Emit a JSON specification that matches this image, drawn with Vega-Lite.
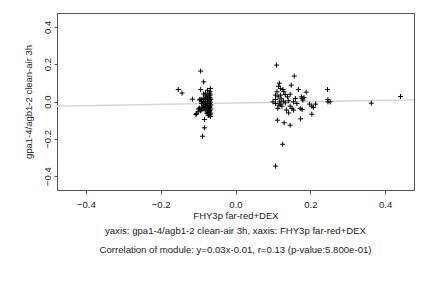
{
  "$schema": "https://vega.github.io/schema/vega-lite/v6.json",
  "width": 357,
  "height": 177,
  "autosize": "none",
  "padding": {"left": 57, "top": 13, "right": 18, "bottom": 98},
  "background": "white",
  "config": {
    "view": {"stroke": "#555555", "strokeWidth": 1},
    "font": "Liberation Sans",
    "axis": {
      "grid": false,
      "domain": false,
      "tickColor": "#555555",
      "tickSize": 4,
      "labelFontSize": 9.6,
      "labelColor": "#222222",
      "titleFontSize": 9.5,
      "titleFontWeight": "normal",
      "titleColor": "#222222"
    }
  },
  "title": {
    "text": ["yaxis: gpa1-4/agb1-2 clean-air 3h, xaxis: FHY3p far-red+DEX", "Correlation of module: y=0.03x-0.01, r=0.13 (p-value:5.800e-01)"],
    "orient": "bottom",
    "anchor": "middle",
    "fontSize": 9.6,
    "fontWeight": "normal",
    "color": "#222222",
    "lineHeight": 19,
    "offset": 6
  },
  "layer": [
    {
      "data": {"values": [{"x": -0.477, "y": -0.025}, {"x": 0.477, "y": 0.009}]},
      "mark": {"type": "line", "color": "#d6d6d6", "strokeWidth": 1.5, "clip": true},
      "encoding": {
        "x": {"field": "x", "type": "quantitative"},
        "y": {"field": "y", "type": "quantitative"}
      }
    },
    {
      "data": {"values": [
        {"x": -0.153, "y": 0.064}, {"x": -0.143, "y": 0.045}, {"x": -0.115, "y": 0.0125}, {"x": -0.106, "y": -0.07},
        {"x": -0.093, "y": 0.163}, {"x": -0.093, "y": 0.064}, {"x": -0.085, "y": 0.105}, {"x": -0.088, "y": -0.186},
        {"x": -0.083, "y": -0.141}, {"x": -0.083, "y": -0.096}, {"x": -0.067, "y": 0.07}, {"x": -0.095, "y": 0.012},
        {"x": -0.068, "y": 0.055}, {"x": -0.069, "y": 0.045}, {"x": -0.067, "y": 0.035}, {"x": -0.07, "y": 0.03},
        {"x": -0.068, "y": 0.02}, {"x": -0.066, "y": 0.012}, {"x": -0.069, "y": 0.005}, {"x": -0.067, "y": -0.003},
        {"x": -0.07, "y": -0.01}, {"x": -0.066, "y": -0.018}, {"x": -0.068, "y": -0.025}, {"x": -0.069, "y": -0.032},
        {"x": -0.066, "y": -0.04}, {"x": -0.068, "y": -0.048}, {"x": -0.07, "y": -0.055}, {"x": -0.066, "y": -0.062},
        {"x": -0.068, "y": -0.07}, {"x": -0.071, "y": -0.075}, {"x": -0.067, "y": -0.08},
        {"x": -0.075, "y": 0.06}, {"x": -0.074, "y": 0.04}, {"x": -0.076, "y": 0.025}, {"x": -0.075, "y": 0.015},
        {"x": -0.074, "y": 0.0}, {"x": -0.076, "y": -0.01}, {"x": -0.075, "y": -0.02}, {"x": -0.073, "y": -0.03},
        {"x": -0.076, "y": -0.04}, {"x": -0.074, "y": -0.05}, {"x": -0.075, "y": -0.06}, {"x": -0.073, "y": -0.075},
        {"x": -0.076, "y": -0.065},
        {"x": -0.08, "y": 0.045}, {"x": -0.081, "y": 0.03}, {"x": -0.079, "y": 0.01}, {"x": -0.08, "y": 0.0},
        {"x": -0.081, "y": -0.015}, {"x": -0.079, "y": -0.025}, {"x": -0.08, "y": -0.035}, {"x": -0.081, "y": -0.045},
        {"x": -0.079, "y": 0.02},
        {"x": -0.085, "y": 0.04}, {"x": -0.086, "y": 0.015}, {"x": -0.084, "y": -0.005}, {"x": -0.085, "y": -0.02},
        {"x": -0.086, "y": -0.03}, {"x": -0.084, "y": -0.04},
        {"x": -0.09, "y": 0.01}, {"x": -0.091, "y": -0.01}, {"x": -0.089, "y": -0.03}, {"x": -0.09, "y": -0.045},
        {"x": -0.091, "y": 0.0},
        {"x": -0.095, "y": 0.008}, {"x": -0.096, "y": -0.035}, {"x": -0.094, "y": -0.05},
        {"x": -0.1, "y": -0.055}, {"x": -0.099, "y": -0.04}, {"x": -0.104, "y": -0.065},
        {"x": 0.1097, "y": 0.195}, {"x": 0.107, "y": -0.346}, {"x": 0.126, "y": -0.229}, {"x": 0.157, "y": 0.136},
        {"x": 0.149, "y": 0.0875}, {"x": 0.112, "y": -0.1}, {"x": 0.13, "y": -0.114}, {"x": 0.146, "y": -0.127},
        {"x": 0.174, "y": -0.093}, {"x": 0.204, "y": -0.068}, {"x": 0.246, "y": 0.064}, {"x": 0.247, "y": 0.011},
        {"x": 0.247, "y": -0.002}, {"x": 0.253, "y": -0.002}, {"x": 0.363, "y": -0.009}, {"x": 0.441, "y": 0.027},
        {"x": 0.168, "y": 0.064}, {"x": 0.189, "y": 0.05}, {"x": 0.117, "y": 0.098}, {"x": 0.115, "y": 0.082},
        {"x": 0.12, "y": 0.07}, {"x": 0.127, "y": 0.064}, {"x": 0.111, "y": 0.052}, {"x": 0.107, "y": 0.034},
        {"x": 0.114, "y": 0.025}, {"x": 0.133, "y": 0.037}, {"x": 0.139, "y": 0.025}, {"x": 0.122, "y": 0.014},
        {"x": 0.107, "y": 0.011}, {"x": 0.118, "y": -0.002}, {"x": 0.128, "y": 0.002}, {"x": 0.133, "y": -0.007},
        {"x": 0.142, "y": 0.004}, {"x": 0.155, "y": -0.002}, {"x": 0.16, "y": 0.016}, {"x": 0.164, "y": -0.011},
        {"x": 0.107, "y": -0.011}, {"x": 0.116, "y": -0.02}, {"x": 0.124, "y": -0.025}, {"x": 0.121, "y": -0.014},
        {"x": 0.113, "y": -0.037}, {"x": 0.146, "y": -0.025}, {"x": 0.151, "y": -0.037}, {"x": 0.155, "y": -0.046},
        {"x": 0.136, "y": -0.046}, {"x": 0.142, "y": -0.061}, {"x": 0.176, "y": 0.025}, {"x": 0.178, "y": 0.016},
        {"x": 0.18, "y": 0.007}, {"x": 0.183, "y": 0.021}, {"x": 0.173, "y": -0.037}, {"x": 0.178, "y": -0.043},
        {"x": 0.198, "y": -0.014}, {"x": 0.204, "y": -0.025}, {"x": 0.208, "y": -0.032}, {"x": 0.214, "y": -0.014},
        {"x": 0.129, "y": 0.052}, {"x": 0.12, "y": 0.034}, {"x": 0.146, "y": 0.039}, {"x": 0.1, "y": -0.002}
      ]},
      "mark": {"type": "point", "shape": "M-1,0L1,0M0,-1L0,1", "size": 25, "filled": false, "color": "black", "strokeWidth": 1, "opacity": 1},
      "encoding": {
        "x": {
          "field": "x", "type": "quantitative",
          "scale": {"domain": [-0.477, 0.477], "nice": false, "zero": false},
          "axis": {"values": [-0.4, -0.2, 0, 0.2, 0.4], "format": ".1f", "labelPadding": 5, "title": "FHY3p far-red+DEX", "titlePadding": 2}
        },
        "y": {
          "field": "y", "type": "quantitative",
          "scale": {"domain": [-0.474, 0.474], "nice": false, "zero": false},
          "axis": {"values": [-0.4, -0.2, 0, 0.2, 0.4], "format": ".1f", "tickSize": 3, "labelAngle": -90, "labelAlign": "center", "labelBaseline": "bottom", "labelPadding": 2, "title": "gpa1-4/agb1-2 clean-air 3h", "titlePadding": 9}
        }
      }
    }
  ]
}
